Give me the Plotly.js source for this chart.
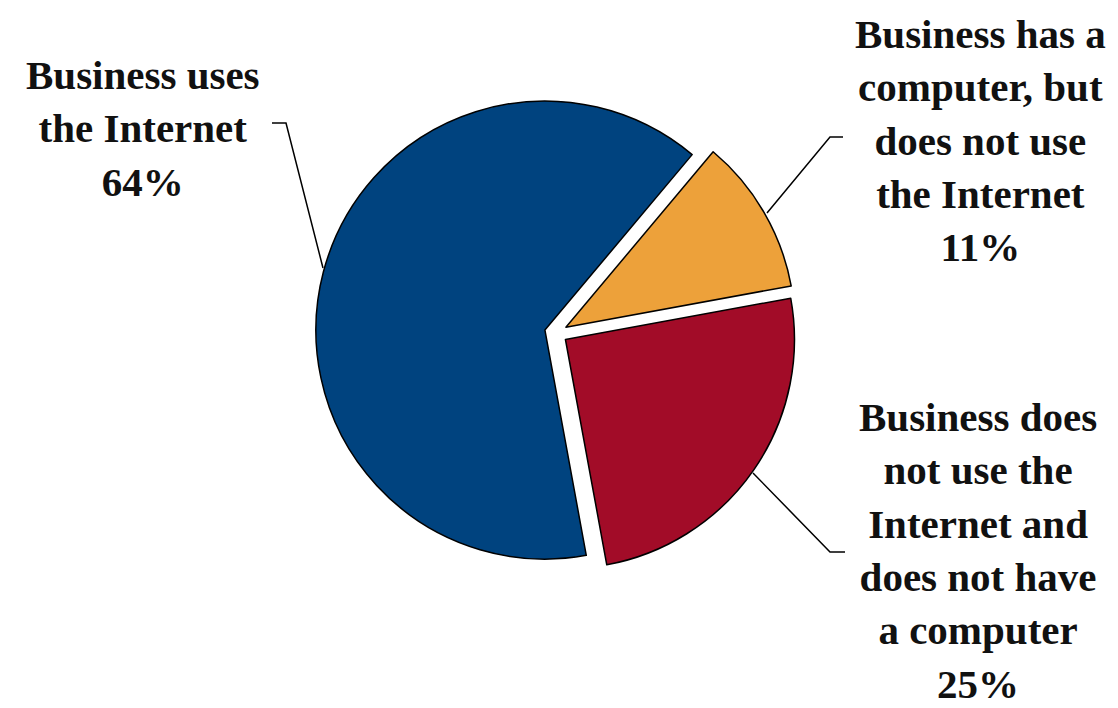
<!DOCTYPE html>
<html>
<head>
<meta charset="utf-8">
<script src="https://cdn.plot.ly/plotly-3.0.1.min.js"></script>
<style>html,body{margin:0;padding:0;background:#fff;}#chart{width:1118px;height:708px;}</style>
</head>
<body>
<div id="chart"></div>
<script>
// Data
const categories = [
  "Business has a computer, but does not use the Internet",
  "Business does not use the Internet and does not have a computer",
  "Business uses the Internet"
];
const shares = [11, 25, 64];
const labelLines = [
  ["Business has a", "computer, but", "does not use", "the Internet"],
  ["Business does", "not use the", "Internet and", "does not have", "a computer"],
  ["Business uses", "the Internet"]
];
const colors = ["#EDA13A", "#A20C28", "#00437F"];

const W = 1118, H = 708;
const px = x => x / W;
const py = y => 1 - y / H;

// label anchor positions (pixels) and leader paths
const labelPos = [
  {x: 980, y: 140},
  {x: 978, y: 550},
  {x: 143, y: 129}
];
const leaders = [
  [[843, 137], [830, 137], [767, 213]],
  [[845, 552], [830, 552], [753, 473]],
  [[272, 123], [286, 123], [323, 268]]
];

const font = {family: "Liberation Serif, Times New Roman, serif", size: 41, color: "#111", weight: 700};

const annotations = categories.map((c, i) => ({
  xref: "paper", yref: "paper",
  x: px(labelPos[i].x), y: py(labelPos[i].y),
  xanchor: "center", yanchor: "middle",
  text: labelLines[i].concat([shares[i] + "%"]).join("<br>"),
  showarrow: false, align: "center", font: font
}));

const shapes = leaders.map(pts => ({
  type: "path", xref: "paper", yref: "paper",
  path: pts.map((p, j) => (j ? "L" : "M") + px(p[0]) + "," + py(p[1])).join(" "),
  line: {color: "#000", width: 1.5}
}));

const trace = {
  type: "pie",
  labels: categories,
  values: shares,
  sort: false,
  direction: "clockwise",
  rotation: 40,
  pull: [0.05, 0.05, 0.05],
  marker: {colors: colors, line: {color: "#000", width: 1.5}},
  textinfo: "none",
  hoverinfo: "label+percent",
  domain: {x: [px(315.5), px(796.5)], y: [py(573.5), py(92.5)]}
};

Plotly.newPlot("chart", [trace], {
  width: W, height: H,
  margin: {l: 0, r: 0, t: 0, b: 0},
  showlegend: false,
  paper_bgcolor: "#fff",
  annotations: annotations,
  shapes: shapes
}, {displayModeBar: false, staticPlot: true});
</script>
</body>
</html>
